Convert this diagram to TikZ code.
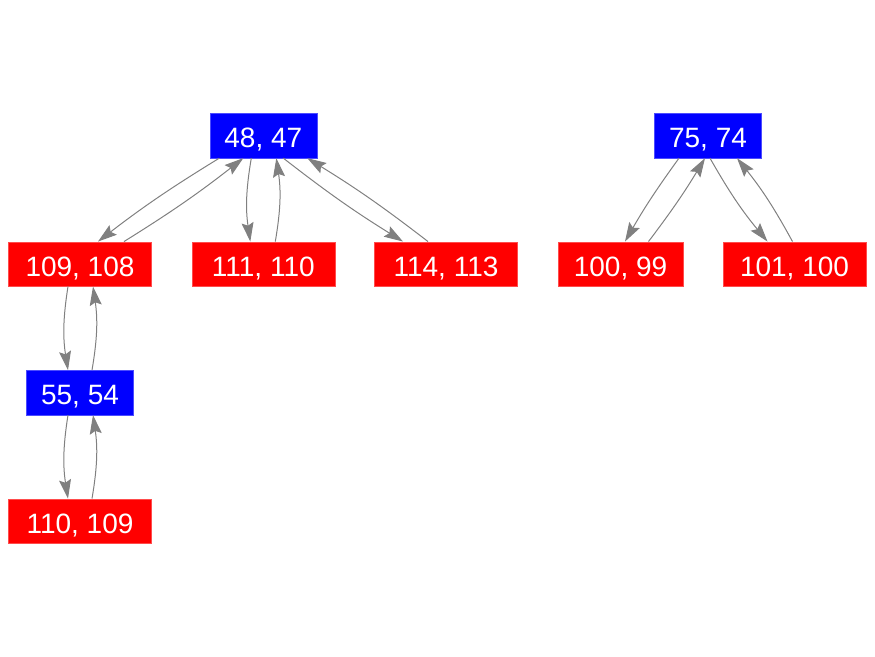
\documentclass[tikz,border=0pt]{standalone}
\usepackage{fontspec}
\setmainfont{Liberation Sans}
\usetikzlibrary{arrows.meta,calc}
\begin{document}
\begin{tikzpicture}[x=1pt,y=-1pt,
  box/.style={draw=#1!70!white,fill=#1,text=white,minimum height=44.5pt,inner sep=0pt,
    text height=24pt,text depth=0pt,font=\fontsize{28}{33}\selectfont},
  bluebox/.style={box=blue,minimum width=107pt},
  redbox/.style={box=red,minimum width=143pt},
  edge/.style={draw=gray,line width=1pt,-{Stealth[length=19pt,width=12pt,inset=3pt]},bend right=#1},
  edge/.default=9]
\useasboundingbox (0,0) rectangle (875,656);
\node[bluebox] (a) at (263.3,135.7) {48, 47};
\node[bluebox] (b) at (708,135.7) {75, 74};
\node[redbox] (c) at (80,264) {109, 108};
\node[redbox] (d) at (263.3,264) {111, 110};
\node[redbox] (e) at (446,264) {114, 113};
\node[redbox,minimum width=125.6pt] (f) at (620.5,264) {100, 99};
\node[redbox] (g) at (794.5,264) {101, 100};
\node[bluebox] (h) at (80,392.6) {55, 54};
\node[redbox] (i) at (80,521) {110, 109};
% 48 -> 109
\draw[edge=3] ($(a.south)+(-44,0)$) to ($(c.north)+(18,0)$);
\draw[edge=3] ($(c.north)+(44,0)$) to ($(a.south)+(-20,0)$);
% 48 -> 111
\draw[edge] ($(a.south)+(-12,0)$) to ($(d.north)+(-13,0)$);
\draw[edge] ($(d.north)+(12,0)$) to ($(a.south)+(13,0)$);
% 48 -> 114
\draw[edge=3] ($(a.south)+(20,0)$) to ($(e.north)+(-43,0)$);
\draw[edge=3] ($(e.north)+(-18,0)$) to ($(a.south)+(44,0)$);
% 75 -> 100
\draw[edge=3] ($(b.south)+(-29,0)$) to ($(f.north)+(4.5,0)$);
\draw[edge=3] ($(f.north)+(28,0)$) to ($(b.south)+(-3,0)$);
% 75 -> 101
\draw[edge=5] ($(b.south)+(2,0)$) to ($(g.north)+(-27,0)$);
\draw[edge=5] ($(g.north)+(-2,0)$) to ($(b.south)+(29,0)$);
% 109 -> 55
\draw[edge] ($(c.south)+(-12,0)$) to ($(h.north)+(-12,0)$);
\draw[edge] ($(h.north)+(12,0)$) to ($(c.south)+(13,0)$);
% 55 -> 110
\draw[edge] ($(h.south)+(-12,0)$) to ($(i.north)+(-12,0)$);
\draw[edge] ($(i.north)+(12,0)$) to ($(h.south)+(13,0)$);
\end{tikzpicture}
\end{document}
